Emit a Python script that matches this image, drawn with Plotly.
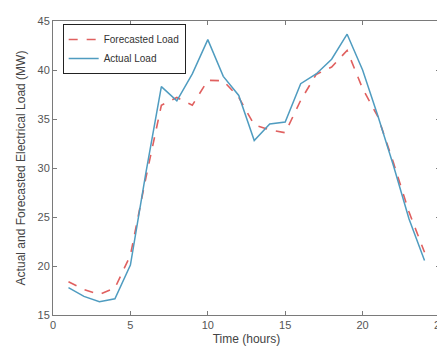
import plotly.graph_objects as go

hours = list(range(1, 25))
forecasted_load = [18.4, 17.6, 17.1, 17.75, 21.1, 29.0, 36.4, 37.2, 36.4, 38.95, 38.9, 37.2,
                   34.4, 33.9, 33.6, 36.9, 39.55, 40.3, 42.0, 38.1, 35.2, 30.5, 25.5, 21.4]
actual_load = [17.8, 16.9, 16.35, 16.65, 20.1, 29.5, 38.3, 36.85, 39.6, 43.1, 39.35, 37.4,
               32.8, 34.5, 34.7, 38.6, 39.6, 41.1, 43.65, 40.0, 35.25, 30.2, 24.8, 20.55]

fig = go.Figure()
fig.add_trace(go.Scatter(x=hours, y=forecasted_load, mode="lines", name="Forecasted Load",
                         line=dict(color="#e0605f", width=1.6, dash="dash")))
fig.add_trace(go.Scatter(x=hours, y=actual_load, mode="lines", name="Actual Load",
                         line=dict(color="#4f9cc0", width=1.5)))

axis_common = dict(showline=True, linecolor="#7a7a7a", linewidth=1, mirror="ticks",
                   ticks="inside", ticklen=4, tickcolor="#7a7a7a", showgrid=False,
                   zeroline=False, tickfont=dict(size=11, color="#555555"))
fig.update_layout(
    width=445, height=347,
    margin=dict(l=45, r=7, t=10, b=40),
    paper_bgcolor="white", plot_bgcolor="white",
    font=dict(family="Liberation Sans, Arial, sans-serif", color="#444444"),
    xaxis=dict(range=[0, 25], dtick=5, tick0=0,
               title=dict(text="Time (hours)", font=dict(size=12, color="#444444"), standoff=4),
               **axis_common),
    yaxis=dict(range=[15, 45], dtick=5, tick0=15,
               title=dict(text="Actual and Forecasted Electrical Load (MW)",
                          font=dict(size=12, color="#444444"), standoff=9),
               **axis_common),
    legend=dict(x=0.025, y=0.99, xanchor="left", yanchor="top",
                bordercolor="#222222", borderwidth=1, bgcolor="white",
                font=dict(size=10, color="#333333"), itemwidth=30,
                tracegroupgap=0),
    showlegend=True,
)
fig.write_html("out.html")
